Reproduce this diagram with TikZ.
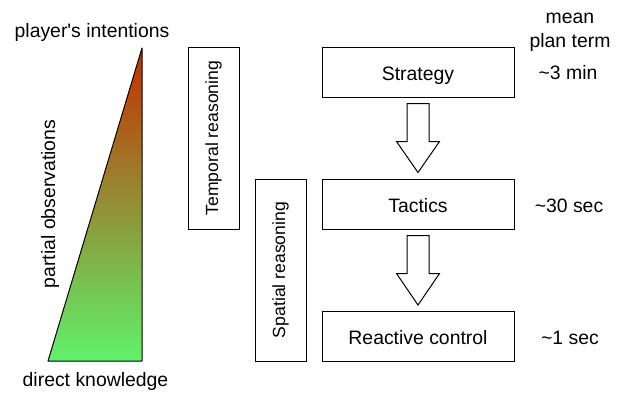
\documentclass[tikz,border=0pt]{standalone}
\usepackage{fontspec}
\setmainfont{Liberation Sans}
\usetikzlibrary{calc}
\definecolor{intentred}{HTML}{C62D00}
\definecolor{knowgreen}{HTML}{5FF26B}
\tikzset{
    level/.style={draw, line width=1pt, minimum width=192pt, minimum height=50pt,
        text height=16pt, text depth=0pt, inner sep=0pt},
    reasoning/.style={draw, line width=1pt, rotate=90, minimum width=182pt,
        minimum height=51pt, inner sep=0pt, font=\fontsize{17.6}{20}\selectfont},
    blockarrow/.style={draw, line width=1pt, fill=white, line join=miter},
}
\begin{document}
\begin{tikzpicture}[x=1pt, y=-1pt, font=\fontsize{19.4}{23}\selectfont]
    \useasboundingbox (0,0) rectangle (620,394);
    % knowledge triangle
    \shade[top color=intentred, bottom color=knowgreen] (48,361) -- (142,48) -- (142,361) -- cycle;
    \draw[line width=1pt, line join=round] (48,361) -- (142,48) -- (142,361) -- cycle;
    \node[anchor=base] (intentions) at (92,37) {player\textquotesingle s intentions};
    \node[anchor=base] (direct) at (95.5,386) {direct knowledge};
    \node[anchor=base, rotate=90] (partial) at (55,204) {partial observations};
    % reasoning
    \node[reasoning] (temporal) at (213.5,138) {Temporal reasoning};
    \node[reasoning] (spatial) at (280.5,270) {Spatial reasoning};
    % plan levels
    \node[level] (strategy) at (418,72) {Strategy};
    \node[level] (tactics) at (418,204) {Tactics};
    \node[level] (reactive) at (418,336.5) {Reactive control};
    \foreach \a/\b in {strategy/tactics, tactics/reactive}
        \draw[blockarrow] ($(\a.south)+(-11,6)$) -- ++(0,38) -- ++(-10.5,0)
            -- ($(\b.north)+(0,-6)$) -- ($(\a.south)+(21.5,44)$) -- ++(-10.5,0) -- ++(0,-38) -- cycle;
    % mean plan term
    \node[anchor=base] (mean) at (570,23) {mean};
    \node[anchor=base] (planterm) at (570,47) {plan term};
    \node[anchor=base] (term3) at (568,79) {\textasciitilde3 min};
    \node[anchor=base] (term30) at (569,212) {\textasciitilde30 sec};
    \node[anchor=base] (term1) at (570,344) {\textasciitilde1 sec};
\end{tikzpicture}
\end{document}
